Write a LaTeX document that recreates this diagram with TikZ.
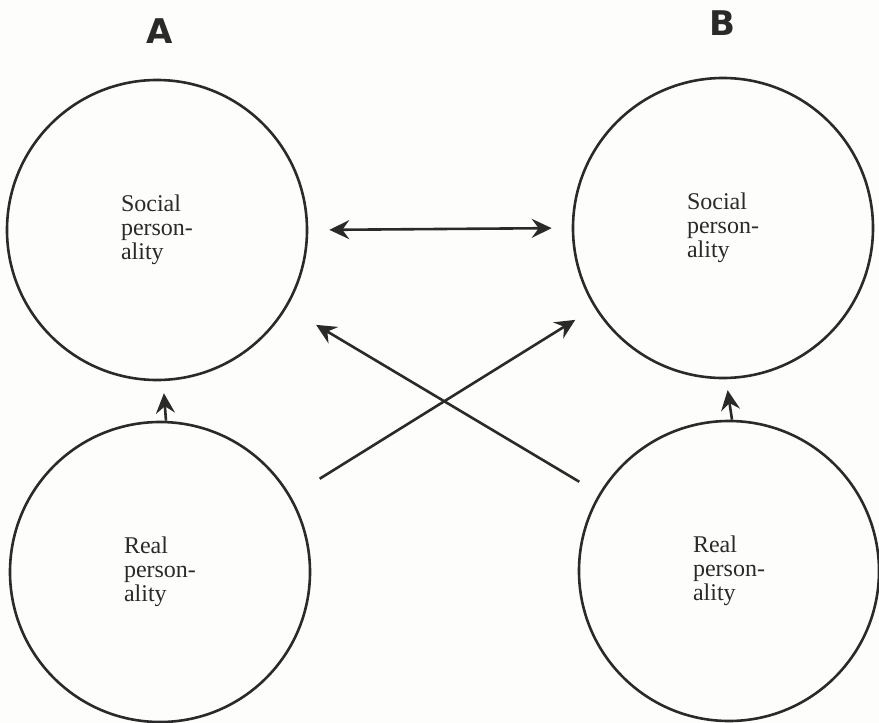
\documentclass[tikz,border=0pt]{standalone}
\usepackage{fontspec}
\setmainfont{Liberation Serif}
\newfontfamily\headfont{DejaVu Sans}
\usetikzlibrary{arrows.meta}
\definecolor{ink}{HTML}{2A2A2A}
\definecolor{paper}{HTML}{FDFDFB}
\begin{document}
\begin{tikzpicture}[x=1pt,y=-1pt,
  >={Stealth[length=20pt,width=19pt,inset=7pt]},
  persona/.style={circle, draw=ink, line width=2.6pt, minimum size=300pt,
    inner sep=0pt, align=left, text=ink,
    font=\fontsize{24}{24}\selectfont},
  link/.style={draw=ink, line width=2.6pt, ->},
  both/.style={draw=ink, line width=2.6pt, <->},
  head/.style={font=\headfont\bfseries\fontsize{34}{34}\selectfont, text=ink}]
  % canvas
  \fill[paper] (0,0) rectangle (879,723);
  \useasboundingbox (0,0) rectangle (879,723);

  % column headings
  \node[head] (hA) at (160,31) {A};
  \node[head] (hB) at (722,23) {B};

  % the four personalities
  \node[persona] (as) at (157,230) {Social\\person-\\ality};
  \node[persona] (ar) at (160,572) {Real\\person-\\ality};
  \node[persona] (bs) at (723,228) {Social\\person-\\ality};
  \node[persona] (br) at (729,571) {Real\\person-\\ality};

  % real -> social within each person
  \draw[link, shorten >=12pt] ([xshift=6pt]ar.north) -- ([xshift=6pt]as.south);
  \draw[link, shorten >=11pt] ([xshift=3pt]br.north) -- ([xshift=3pt]bs.south);

  % social <-> social between the two persons
  \draw[both, shorten <=21pt, shorten >=20pt] (as.east) -- (bs.west);

  % each real personality reaches the other's social personality
  \draw[link, shorten <=188pt, shorten >=174pt] ([yshift=-6pt]ar.center) -- (bs.center);
  \draw[link, shorten <=23pt, shorten >=34pt] (br) -- (as);
\end{tikzpicture}
\end{document}
